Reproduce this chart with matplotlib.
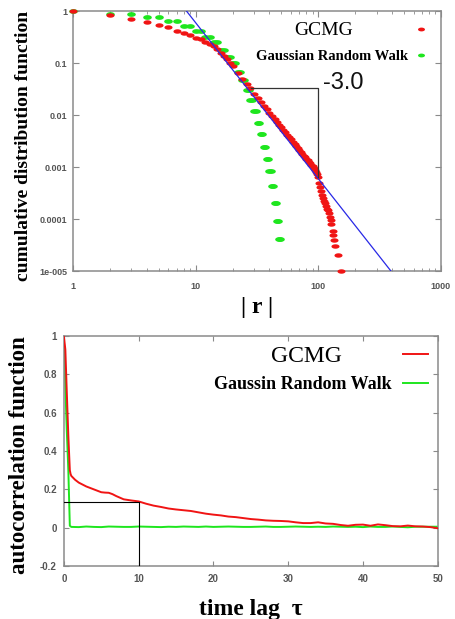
import numpy as np
import matplotlib
matplotlib.use("Agg")
import matplotlib.pyplot as plt
from matplotlib.path import Path
from matplotlib.lines import Line2D

# ---------------- data: top panel (cumulative distribution) ----------------
r_gcmg = [1, 2, 3, 4, 5, 6, 7, 8, 9, 10, 11, 12, 13, 14, 15, 16, 17, 18, 19, 20,
          22, 24, 26, 28, 30, 32, 34, 36, 38, 40, 42, 44, 46, 48, 50,
          52, 54, 56, 58, 60, 62, 64, 66, 68, 70, 72, 74, 76, 78, 80,
          82, 84, 86, 88, 90, 92, 94, 96, 98, 100,
          102, 104, 106, 108, 110, 112, 114, 116, 118, 120, 122, 124, 126, 128,
          131, 133, 135, 138, 146, 152]
cdf_gcmg = [1.0, 0.84, 0.72, 0.62, 0.55, 0.485, 0.42, 0.38, 0.345, 0.31, 0.285, 0.26,
            0.235, 0.21, 0.185, 0.16, 0.14, 0.12, 0.10, 0.088,
            0.066, 0.05, 0.04, 0.033, 0.026, 0.0215, 0.018, 0.0152, 0.013, 0.0112,
            0.0097, 0.0085, 0.0074, 0.0066, 0.0059,
            0.0052, 0.0047, 0.0042, 0.0038, 0.0034, 0.0031, 0.0028, 0.0026, 0.0023, 0.0021,
            0.00195, 0.0018, 0.00165, 0.00155, 0.00145,
            0.00135, 0.00125, 0.00118, 0.0011, 0.00104, 0.00097, 0.0009, 0.00082, 0.00074, 0.00064,
            5.0e-4, 4.2e-4, 3.4e-4, 2.9e-4, 2.5e-4, 2.2e-4, 2.0e-4, 1.8e-4, 1.6e-4, 1.5e-4,
            1.3e-4, 1.1e-4, 9.5e-5, 8.0e-5,
            6.0e-5, 5.0e-5, 4.0e-5, 3.0e-5, 2.0e-5, 1.0e-5]

r_grw = [1, 2, 3, 4, 5, 6, 7, 8, 9, 10, 11, 12, 13, 14, 15, 16, 17, 18, 19, 20, 21,
         22, 23, 24, 25, 26, 27, 28, 29, 30, 31, 32, 33, 34, 35, 36, 37, 38, 39,
         40, 41, 42, 43, 44, 45, 46, 47, 48, 49]
cdf_grw = [1.0, 0.9, 0.9, 0.76, 0.76, 0.64, 0.64, 0.52, 0.52, 0.41, 0.41, 0.32, 0.32,
           0.25, 0.25, 0.18, 0.18, 0.132, 0.132, 0.099, 0.099, 0.068, 0.068,
           0.047, 0.047, 0.030, 0.030, 0.0195, 0.0195, 0.0119, 0.0119,
           0.0071, 0.0071, 0.00425, 0.00425, 0.00246, 0.00246, 0.00143, 0.00143,
           0.00084, 0.00084, 0.00044, 0.00044, 0.000204, 0.000204,
           9.1e-5, 9.1e-5, 4.1e-5, 4.1e-5]

fit_slope = -3.0
fit_coef = 600.0          # power law  C * r^slope
fit_range = [8.0, 420.0]

tri_x = [28.4, 100, 100]
tri_y = [0.0335, 0.0335, 0.00065]
slope_label = "-3.0"

# ---------------- data: bottom panel (autocorrelation) ----------------
tau_gcmg = [0, 0.2, 0.4, 0.6, 0.8, 0.9, 1.0, 1.5, 2, 3, 4, 5, 5.5, 6, 6.5, 7, 8, 9, 10,
            11, 12, 13, 14, 15, 16, 17, 18, 19, 20, 21, 22, 23, 24, 25, 26, 27, 28, 29,
            30, 31, 32, 33, 34, 35, 36, 37, 38, 39, 40, 41, 42, 43, 44, 45, 46, 47, 48, 49, 50]
acf_gcmg = [1.0, 0.93, 0.70, 0.48, 0.30, 0.28, 0.27, 0.25, 0.235, 0.215, 0.20, 0.185,
            0.183, 0.182, 0.175, 0.165, 0.148, 0.142, 0.137, 0.125, 0.115, 0.108, 0.100,
            0.095, 0.091, 0.087, 0.080, 0.073, 0.068, 0.064, 0.058, 0.055, 0.050, 0.045,
            0.042, 0.038, 0.036, 0.035, 0.033, 0.028, 0.024, 0.024, 0.028, 0.022, 0.020,
            0.014, 0.010, 0.015, 0.016, 0.010, 0.017, 0.013, 0.008, 0.007, 0.011, 0.007,
            0.006, 0.003, -0.003]

tau_grw = [0, 0.15, 0.4, 0.6, 0.8, 1, 2, 3, 4, 5, 6, 7, 8, 9, 10, 11, 12, 13, 14, 15,
           16, 17, 18, 19, 20, 21, 22, 23, 24, 25, 26, 27, 28, 29, 30, 31, 32, 33, 34,
           35, 36, 37, 38, 39, 40, 41, 42, 43, 44, 45, 46, 47, 48, 49, 50]
acf_grw = [1.0, 0.8, 0.5, 0.3, 0.01, 0.004, 0.003, 0.006, 0.004, 0.003, 0.006, 0.005,
           0.004, 0.004, 0.006, 0.005, 0.004, 0.003, 0.005, 0.004, 0.006, 0.005, 0.004,
           0.006, 0.004, 0.005, 0.006, 0.005, 0.004, 0.004, 0.005, 0.006, 0.004, 0.004,
           0.005, 0.006, 0.005, 0.004, 0.005, 0.004, 0.006, 0.005, 0.004, 0.005, 0.003,
           0.006, 0.004, 0.004, 0.006, 0.004, 0.002, 0.005, 0.005, 0.005, 0.005]

ref_h = 0.135
ref_v = 10

# ---------------- styling ----------------
RED = "#f01414"
GREEN = "#1ee61e"
BLUE = "#2828e6"
FRAME = "#8a8a8a"
TICKCOL = "#555555"
SERIF = ["Liberation Serif", "DejaVu Serif"]
SANS = ["Liberation Sans", "DejaVu Sans"]

t = np.linspace(0, 2 * np.pi, 60)
ellipse = Path(np.column_stack([np.cos(t) * 1.0, np.sin(t) * 0.55]), closed=True)

fig = plt.figure(figsize=(4.56, 6.19), dpi=100)

# ---------------- top panel ----------------
ax1 = fig.add_axes([0.160, 0.562, 0.807, 0.420])
ax1.set_xscale("log")
ax1.set_yscale("log")
ax1.plot(r_grw, cdf_grw, linestyle="none", marker=ellipse, markersize=6.2,
         color=GREEN, markeredgewidth=0, zorder=3, clip_on=False)
ax1.plot(r_gcmg, cdf_gcmg, linestyle="none", marker=ellipse, markersize=5.8,
         color=RED, markeredgewidth=0, zorder=4, clip_on=False)
xf = np.logspace(np.log10(fit_range[0]), np.log10(fit_range[1]), 50)
ax1.plot(xf, fit_coef * xf ** fit_slope, color=BLUE, lw=0.9, zorder=5)
ax1.plot(tri_x, tri_y, color="#333333", lw=0.9, zorder=6)
ax1.text(tri_x[-1] * 1.1, tri_y[0] * 1.22, slope_label, fontsize=17, family=SANS,
         ha="left", va="center", color="#111111")
ax1.set_xlim(1, 1000)
ax1.set_ylim(1e-5, 1.0)
ax1.set_xticks([1, 10, 100, 1000])
ax1.set_xticklabels(["1", "10", "100", "1000"])
ax1.set_yticks([1e-5, 1e-4, 1e-3, 1e-2, 1e-1, 1])
ax1.set_yticklabels(["1e-005", "0.0001", "0.001", "0.01", "0.1", "1"])
ax1.yaxis.set_minor_locator(matplotlib.ticker.NullLocator())
ax1.tick_params(which="both", direction="in", top=True, right=True, color=FRAME,
                labelsize=6.5, labelcolor=TICKCOL)
ax1.tick_params(which="major", length=4, width=0.8)
ax1.tick_params(which="minor", length=2, width=0.6)
ax1.tick_params(axis="x", pad=8)
ax1.tick_params(axis="y", pad=4)
for lab in ax1.get_xticklabels() + ax1.get_yticklabels():
    lab.set_family(SANS)
    lab.set_fontweight("bold")
for s in ax1.spines.values():
    s.set_color(FRAME)
    s.set_linewidth(1.1)
ax1.set_ylabel("cumulative distribution function", family=SERIF, fontweight="bold",
               fontsize=14)
ax1.yaxis.set_label_coords(-0.111, 0.48)
ax1.set_xlabel("| r |", family=SERIF, fontweight="bold", fontsize=17)
ax1.xaxis.set_label_coords(0.5, -0.10)

leg_a = ax1.legend([Line2D([], [], linestyle="none", marker=ellipse, markersize=5,
                           color=RED, markeredgewidth=0)], ["GCMG"],
                   loc="center right", bbox_to_anchor=(0.972, 0.925), frameon=False,
                   markerfirst=False, handletextpad=3.0, handlelength=1.0,
                   borderaxespad=0, borderpad=0,
                   prop={"family": SERIF, "size": 14})
ax1.add_artist(leg_a)
ax1.legend([Line2D([], [], linestyle="none", marker=ellipse, markersize=5,
                   color=GREEN, markeredgewidth=0)], ["Gaussian Random Walk"],
           loc="center right", bbox_to_anchor=(0.9655, 0.826), frameon=False,
           markerfirst=False, handletextpad=0.39, handlelength=1.0,
           borderaxespad=0, borderpad=0,
           prop={"family": SERIF, "size": 10.5, "weight": "bold"})

# ---------------- bottom panel ----------------
ax2 = fig.add_axes([0.140, 0.0856, 0.820, 0.3716])
ax2.plot(tau_gcmg, acf_gcmg, color=RED, lw=1.4, label="GCMG", zorder=3)
ax2.plot(tau_grw, acf_grw, color=GREEN, lw=1.4, label="Gaussin Random Walk", zorder=2)
ax2.plot([0, ref_v, ref_v], [ref_h, ref_h, -0.2], color="black", lw=0.8, zorder=4)
ax2.set_xlim(0, 50)
ax2.set_ylim(-0.2, 1.0)
ax2.set_xticks([0, 10, 20, 30, 40, 50])
ax2.set_yticks([-0.2, 0, 0.2, 0.4, 0.6, 0.8, 1])
ax2.set_yticklabels(["-0.2", "0", "0.2", "0.4", "0.6", "0.8", "1"])
ax2.tick_params(which="both", direction="in", top=True, right=True, color=FRAME,
                labelsize=7, labelcolor=TICKCOL, length=3.5, width=0.8)
ax2.tick_params(axis="x", pad=6)
ax2.tick_params(axis="y", pad=5)
for lab in ax2.get_xticklabels() + ax2.get_yticklabels():
    lab.set_family(SANS)
    lab.set_fontweight("bold")
for s in ax2.spines.values():
    s.set_color(FRAME)
    s.set_linewidth(1.1)
ax2.set_ylabel("autocorrelation function", family=SERIF, fontweight="bold", fontsize=16.5)
ax2.yaxis.set_label_coords(-0.091, 0.48)
ax2.set_xlabel("time lag  τ", family=SERIF, fontweight="bold", fontsize=17)
ax2.xaxis.set_label_coords(0.5, -0.145)

h2, l2 = ax2.get_legend_handles_labels()
leg_b = ax2.legend([h2[0]], [l2[0]], loc="center right", bbox_to_anchor=(0.973, 0.91),
                   frameon=False, markerfirst=False, handletextpad=2.58,
                   handlelength=1.06, borderaxespad=0, borderpad=0,
                   prop={"family": SERIF, "size": 17})
ax2.add_artist(leg_b)
ax2.legend([h2[1]], [l2[1]], loc="center right", bbox_to_anchor=(0.973, 0.787),
           frameon=False, markerfirst=False, handletextpad=0.6, handlelength=1.38,
           borderaxespad=0, borderpad=0,
           prop={"family": SERIF, "size": 13, "weight": "bold"})

fig.savefig("out.png", dpi=100)
